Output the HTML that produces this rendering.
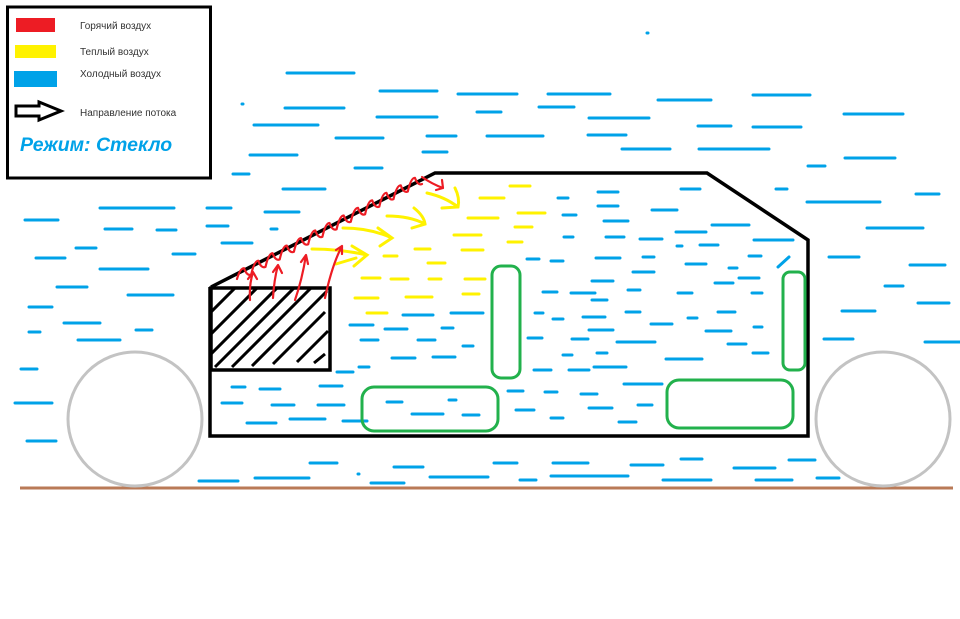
<!DOCTYPE html>
<html><head><meta charset="utf-8">
<style>
html,body{margin:0;padding:0;background:#fff;width:960px;height:619px;overflow:hidden}
svg{display:block}
text{font-family:"Liberation Sans","DejaVu Sans",sans-serif}
</style></head>
<body>
<svg id="s" width="960" height="619" viewBox="0 0 960 619" xmlns="http://www.w3.org/2000/svg">
<defs><clipPath id="eng"><rect x="212" y="288" width="118" height="81"/></clipPath></defs>
<rect x="7.5" y="7" width="203" height="171" fill="#fff" stroke="#000" stroke-width="3"/>
<rect x="16" y="18" width="39" height="14" fill="#ed1c24"/>
<rect x="15" y="45" width="41" height="13" fill="#fff200"/>
<rect x="14" y="71" width="43" height="16" fill="#00a2e8"/>
<text x="80" y="29" font-size="10" fill="#333">Горячий воздух</text>
<text x="80" y="55" font-size="10" fill="#333">Теплый воздух</text>
<text x="80" y="77" font-size="10" fill="#333">Холодный воздух</text>
<text x="80" y="116" font-size="10" fill="#333">Направление потока</text>
<polygon points="16,106 39,106 39,102 61,111 39,120 39,116 16,116" fill="#fff" stroke="#000" stroke-width="3"/>
<text x="20" y="151" font-size="19.5" font-weight="bold" font-style="italic" fill="#00a2e8">Режим: Стекло</text>
<line x1="20" y1="488" x2="953" y2="488" stroke="#b97a57" stroke-width="3"/>
<circle cx="135" cy="419" r="67" fill="none" stroke="#c3c3c3" stroke-width="3"/>
<circle cx="883" cy="419" r="67" fill="none" stroke="#c3c3c3" stroke-width="3"/>
<g id="dash" stroke="#00a2e8" stroke-width="3" stroke-linecap="round" fill="none"></g>
<g id="yel" stroke="#fff200" stroke-width="3" stroke-linecap="round" fill="none"></g>
<polyline points="211,287 435,173 707,173 808,240 808,436 210,436 210,287" fill="none" stroke="#000" stroke-width="3.5" stroke-linejoin="miter"/>
<rect x="211" y="288" width="119" height="82" fill="none" stroke="#000" stroke-width="3.5"/>
<g clip-path="url(#eng)" stroke="#000" stroke-width="3">
<line x1="205" y1="318" x2="245" y2="278"/>
<line x1="205" y1="340" x2="262" y2="283"/>
<line x1="210" y1="355" x2="280" y2="285"/>
<line x1="215" y1="367" x2="297" y2="285"/>
<line x1="232" y1="367" x2="312" y2="287"/>
<line x1="252" y1="366" x2="327" y2="291"/>
<line x1="273" y1="364" x2="325" y2="312"/>
<line x1="297" y1="362" x2="328" y2="331"/>
<line x1="314" y1="363" x2="325" y2="354"/>
</g>
<g fill="none" stroke="#22b14c" stroke-width="3">
<rect x="492" y="266" width="28" height="112" rx="9"/>
<rect x="783" y="272" width="22" height="98" rx="7"/>
<rect x="362" y="387" width="136" height="44" rx="12"/>
<rect x="667" y="380" width="126" height="48" rx="12"/>
</g>
<g id="red" stroke="#ed1c24" stroke-width="2.2" fill="none" stroke-linejoin="round" stroke-linecap="round"></g>
</svg>
<script>
var NS="http://www.w3.org/2000/svg";
function L(g,x1,y,x2,y2){var l=document.createElementNS(NS,"line");l.setAttribute("x1",x1);l.setAttribute("y1",y);l.setAttribute("x2",x2);l.setAttribute("y2",y2===undefined?y:y2);g.appendChild(l);}
function P(g,d){var p=document.createElementNS(NS,"path");p.setAttribute("d",d);g.appendChild(p);}
var B=document.getElementById("dash");
var bl=[[287,73,354],[380,91,437],[458,94,517],[548,94,610],[658,100,711],[753,95,810],[242,104,243],[285,108,344],[377,117,437],[477,112,501],[539,107,574],[589,118,649],[698,126,731],[753,127,801],[844,114,903],[647,33,648],
[254,125,318],[336,138,383],[427,136,456],[487,136,543],[588,135,626],[250,155,297],[423,152,447],[622,149,670],[699,149,769],[845,158,895],[808,166,825],[355,168,382],[233,174,249],[283,189,325],
[776,189,787],[807,202,880],[916,194,939],[867,228,923],[829,257,859],[910,265,945],[885,286,903],[918,303,949],[842,311,875],[824,339,853],[925,342,960],
[25,220,58],[100,208,174],[207,208,231],[265,212,299],[105,229,132],[157,230,176],[207,226,228],[271,229,277],[76,248,96],[222,243,252],[36,258,65],[173,254,195],[100,269,148],[57,287,87],[128,295,173],
[29,307,52],[64,323,100],[29,332,40],[78,340,120],[136,330,152],[21,369,37],[15,403,52],[27,441,56],
[558,198,568],[598,192,618],[598,206,618],[563,215,576],[604,221,628],[652,210,677],[681,189,700],[712,225,749],[676,232,706],[564,237,573],[606,237,624],[640,239,662],[677,246,682],[700,245,718],[754,240,793],
[527,259,539],[551,261,563],[596,258,620],[643,257,654],[749,256,761],[686,264,706],[729,268,737],[633,272,654],[739,278,759],[715,283,733],[592,281,613],[628,290,640],[543,292,557],[571,293,595],[592,300,607],[678,293,692],[752,293,762],
[535,313,543],[553,319,563],[583,317,605],[626,312,640],[718,312,735],[651,324,672],[688,318,697],[706,331,731],[754,327,762],[528,338,542],[589,330,613],[572,339,588],[617,342,655],[728,344,746],[563,355,572],[597,353,607],[666,359,702],[753,353,768],
[534,370,551],[569,370,589],[594,367,626],[624,384,662],[508,391,523],[545,392,557],[581,394,597],[516,410,534],[589,408,612],[638,405,652],[551,418,563],[619,422,636],
[350,325,373],[385,329,407],[403,315,433],[451,313,483],[442,328,453],[361,340,378],[418,340,435],[463,346,473],[392,358,415],[433,357,455],[337,372,353],[359,367,369],
[232,387,245],[260,389,280],[320,386,342],[222,403,242],[272,405,294],[318,405,344],[247,423,276],[290,419,325],[343,421,367],[387,402,402],[449,400,456],[412,414,443],[463,415,479],
[310,463,337],[394,467,423],[494,463,517],[553,463,588],[631,465,663],[681,459,702],[734,468,775],[789,460,815],[199,481,238],[255,478,309],[358,474,359],[371,483,404],[430,477,488],[520,480,536],[551,476,628],[663,480,711],[756,480,792],[817,478,839]];
bl.forEach(function(a){L(B,a[0],a[1],a[2]);});
L(B,778,267,789,257);
var Y=document.getElementById("yel");
var yl=[[510,186,530],[480,198,504],[518,213,545],[468,218,498],[515,227,532],[454,235,481],[508,242,522],[415,249,430],[462,250,483],[384,256,397],[428,263,445],[362,278,380],[391,279,408],[429,279,441],[465,279,485],[355,298,378],[406,297,432],[463,294,479],[367,313,387]];
yl.forEach(function(a){L(Y,a[0],a[1],a[2]);});
P(Y,"M312,249 Q340,249 367,255 M352,246 L367,255 L354,266");
P(Y,"M343,228 Q370,228 392,238 M378,228 L392,238 L380,246");
P(Y,"M387,216 Q410,216 425,224 M414,208 Q424,216 425,224 L412,228");
P(Y,"M427,193 Q445,197 458,207 M455,188 Q460,198 458,207 L442,208");
P(Y,"M336,264 L356,258");
var R=document.getElementById("red");
var x0=237,y0=279,x1=422,y1=181,n=13;
var d="M"+x0+","+y0;
for(var i=0;i<n;i++){var ta=(i+0.5)/n,tb=(i+1)/n;
var xa=x0+(x1-x0)*ta,ya=y0+(y1-y0)*ta-7;var xb=x0+(x1-x0)*tb,yb=y0+(y1-y0)*tb+3;
d+=" Q"+(xa-4).toFixed(1)+","+(ya).toFixed(1)+" "+xa.toFixed(1)+","+ya.toFixed(1)+" Q"+(xa+3).toFixed(1)+","+(yb+2).toFixed(1)+" "+xb.toFixed(1)+","+yb.toFixed(1);}
P(R,d);
P(R,"M422,177 Q432,184 443,188 M442,180 L443,188 L436,190");
P(R,"M250,300 Q249,285 253,272 M248,279 L253,272 L257,279");
P(R,"M273,298 Q274,280 278,265 M273,272 L278,265 L282,273");
P(R,"M295,300 Q302,280 306,255 M301,262 L306,255 L308,264");
P(R,"M325,298 Q332,265 342,246 M336,250 L342,246 L342,254");
</script>
</body></html>
